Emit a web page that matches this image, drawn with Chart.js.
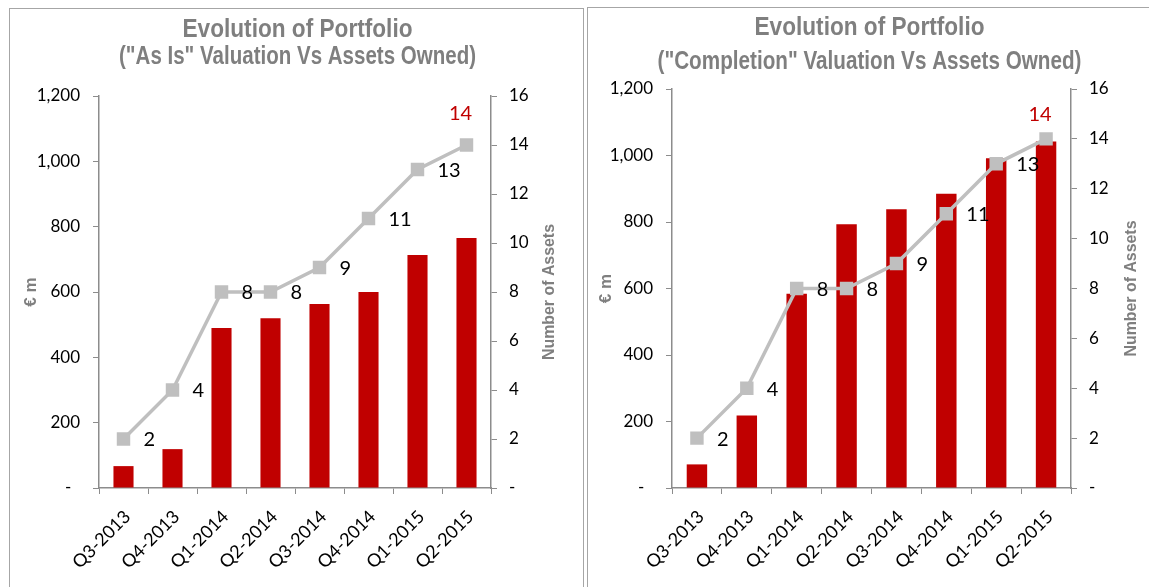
<!DOCTYPE html>
<html lang="en">
<head>
  <meta charset="UTF-8" />
  <title>Evolution of Portfolio</title>
  <script src="https://cdn.jsdelivr.net/npm/chart.js"></script>
  <style>
    body { margin: 0; background: #fff; overflow: hidden; }
    .panel { position: absolute; border: 1px solid #a6a6a6; background: #fff; }
    #leftPanel { left: 9px; top: 8px; width: 573px; height: 590px; }
    #rightPanel { left: 587px; top: 7px; width: 575px; height: 590px; }
    canvas { display: block; }
  </style>
</head>
<body>
  <div class="panel" id="leftPanel"><canvas id="asIsChart" width="573" height="590"></canvas></div>
  <div class="panel" id="rightPanel"><canvas id="completionChart" width="575" height="590"></canvas></div>

  <script>
    // data
    const quarters = ['Q3-2013', 'Q4-2013', 'Q1-2014', 'Q2-2014', 'Q3-2014', 'Q4-2014', 'Q1-2015', 'Q2-2015'];
    const asIsValuation = [67, 119, 490, 520, 563, 600, 713, 765];
    const completionValuation = [71, 218, 584, 793, 838, 885, 992, 1042];
    const assetsOwned = [2, 4, 8, 8, 9, 11, 13, 14];

    const RED = '#C00000';
    const LINE_GREY = '#BFBFBF';
    const AXIS_GREY = '#8c8c8c';
    const TITLE_GREY = '#7f7f7f';
    const BOLD_SANS = "'Liberation Sans', Arial, sans-serif";

    Chart.defaults.font.family = "Lato, 'Open Sans', sans-serif";
    Chart.defaults.color = '#000';

    // two-line narrow title (Arial Narrow look: squeeze Liberation Sans Bold)
    const narrowTitle = {
      id: 'narrowTitle',
      afterDraw(chart, args, opts) {
        const ctx = chart.ctx;
        const cx = chart.width / 2 + opts.dx;
        ctx.save();
        ctx.font = 'bold 26px ' + BOLD_SANS;
        ctx.fillStyle = TITLE_GREY;
        ctx.textAlign = 'center';
        ctx.textBaseline = 'middle';
        opts.lines.forEach((line, i) => {
          ctx.fillText(line, cx, opts.ys[i], opts.widths[i]);
        });
        ctx.restore();
      }
    };

    // value labels next to the asset-count markers
    const pointLabels = {
      id: 'pointLabels',
      afterDatasetsDraw(chart, args, opts) {
        const meta = chart.getDatasetMeta(1);
        const ctx = chart.ctx;
        ctx.save();
        ctx.font = '20px Lato';
        ctx.textBaseline = 'middle';
        meta.data.forEach((pt, i) => {
          const v = assetsOwned[i];
          if (i === assetsOwned.length - 1) {
            ctx.fillStyle = RED;
            ctx.textAlign = 'center';
            ctx.fillText(v, pt.x - 6, pt.y + opts.lastDy);
          } else {
            ctx.fillStyle = '#000';
            ctx.textAlign = 'left';
            ctx.fillText(v, pt.x + 20, pt.y + 1);
          }
        });
        ctx.restore();
      }
    };

    // axis titles, the right one reads bottom-to-top like Excel
    const axisTitles = {
      id: 'axisTitles',
      afterDraw(chart, args, opts) {
        const ctx = chart.ctx;
        const mid = (chart.chartArea.top + chart.chartArea.bottom) / 2;
        ctx.save();
        ctx.fillStyle = TITLE_GREY;
        ctx.textAlign = 'center';
        ctx.textBaseline = 'middle';

        ctx.save();
        ctx.translate(opts.leftX, mid);
        ctx.rotate(-Math.PI / 2);
        ctx.font = 'bold 17px ' + BOLD_SANS;
        ctx.fillText('€ m', 0, 0);
        ctx.restore();

        ctx.translate(opts.rightX, mid);
        ctx.rotate(-Math.PI / 2);
        ctx.font = 'bold 16px ' + BOLD_SANS;
        ctx.fillText('Number of Assets', 0, 0, 136);
        ctx.restore();
      }
    };

    function makePortfolioChart(id, o) {
      const canvas = document.getElementById(id);
      const W = canvas.width, H = canvas.height;
      return new Chart(canvas, {
        data: {
          labels: quarters,
          datasets: [
            {
              type: 'bar',
              label: '€ m',
              data: o.values,
              yAxisID: 'y',
              order: 2,
              backgroundColor: RED,
              barPercentage: 0.41,
              categoryPercentage: 1
            },
            {
              type: 'line',
              label: 'Number of Assets',
              data: assetsOwned,
              yAxisID: 'y1',
              order: 1,
              borderColor: LINE_GREY,
              borderWidth: 3.5,
              pointStyle: 'rect',
              pointRadius: 9.5,
              pointBackgroundColor: LINE_GREY,
              pointBorderWidth: 0,
              tension: 0
            }
          ]
        },
        options: {
          responsive: false,
          animation: false,
          layout: { padding: { top: o.top, left: 0, right: 0, bottom: 0 } },
          plugins: {
            legend: { display: false },
            tooltip: { enabled: false },
            title: { display: false },
            narrowTitle: { lines: o.title, ys: o.titleYs, widths: o.titleWidths, dx: o.titleDx },
            pointLabels: { lastDy: o.lastDy },
            axisTitles: { leftX: o.leftTitleX, rightX: o.rightTitleX }
          },
          scales: {
            x: {
              grid: { offset: true, drawOnChartArea: false, tickLength: 6, color: AXIS_GREY },
              border: { color: AXIS_GREY, width: 1.5 },
              ticks: { font: { size: 18 }, minRotation: 45, maxRotation: 45, autoSkip: false, padding: 12, labelOffset: 4 },
              afterFit: s => { s.height = H - o.bottom; }
            },
            y: {
              position: 'left',
              min: 0,
              max: 1200,
              ticks: {
                stepSize: 200,
                font: { size: 17 },
                padding: 13,
                callback: v => v === 0 ? '-  ' : v.toLocaleString('en-US')
              },
              grid: { drawOnChartArea: false, tickLength: 6, color: AXIS_GREY },
              border: { color: AXIS_GREY, width: 1.5 },
              afterFit: s => { s.width = o.left; }
            },
            y1: {
              position: 'right',
              min: 0,
              max: 16,
              ticks: {
                stepSize: 2,
                font: { size: 17 },
                padding: 12,
                callback: v => v === 0 ? '-' : v
              },
              grid: { drawOnChartArea: false, tickLength: 6, color: AXIS_GREY },
              border: { color: AXIS_GREY, width: 1.5 },
              afterFit: s => { s.width = W - o.right; }
            }
          }
        },
        plugins: [narrowTitle, pointLabels, axisTitles]
      });
    }

    makePortfolioChart('asIsChart', {
      values: asIsValuation,
      title: ['Evolution of Portfolio', '("As Is" Valuation Vs Assets Owned)'],
      titleYs: [21, 48],
      titleWidths: [230, 357],
      titleDx: 1,
      top: 87,
      left: 89,
      right: 481,
      bottom: 479,
      leftTitleX: 21,
      rightTitleX: 540,
      lastDy: -31
    });

    makePortfolioChart('completionChart', {
      values: completionValuation,
      title: ['Evolution of Portfolio', '("Completion" Valuation Vs Assets Owned)'],
      titleYs: [20, 54],
      titleWidths: [230, 424],
      titleDx: -6,
      top: 81,
      left: 84,
      right: 483,
      bottom: 480,
      leftTitleX: 18,
      rightTitleX: 544,
      lastDy: -24
    });
  </script>
</body>
</html>
